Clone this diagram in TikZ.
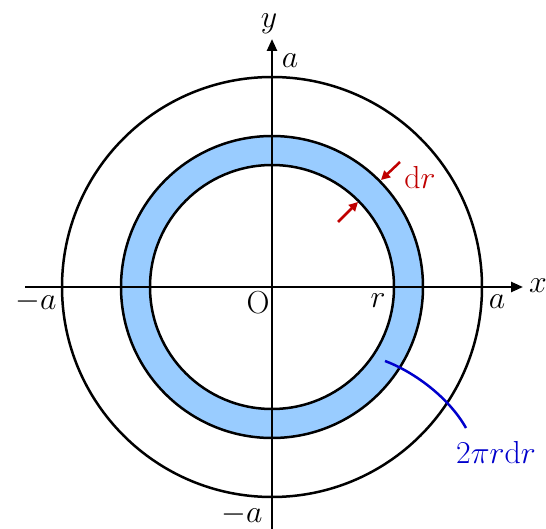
\documentclass[tikz,border=0pt]{standalone}
\usetikzlibrary{arrows.meta}
\definecolor{ringblue}{RGB}{153,204,255}
\definecolor{darkred}{RGB}{192,0,0}
\definecolor{labelblue}{RGB}{0,0,204}
\begin{document}
\begin{tikzpicture}[x=1pt,y=-1pt, line width=2.5pt,
  lbl/.style={font=\Huge, inner sep=0pt, scale=1.28, transform shape},
  axisarrow/.style={-{Triangle[length=12pt,width=10pt]}},
  drarrow/.style={darkred, -{Triangle[length=9pt,width=9pt]}}]
\useasboundingbox (0,0) rectangle (546,529);
\coordinate (O) at (272,287);
\fill[ringblue, even odd rule] (O) circle (151pt) (O) circle (122pt);
\draw (O) circle (151pt) (O) circle (122pt) (O) circle (210pt);
\coordinate (xs) at (25,287);
\coordinate (xe) at (523,287);
\coordinate (ys) at (272,529);
\coordinate (ye) at (272,39);
\draw[axisarrow] (xs) -- (xe);
\draw[axisarrow] (ys) -- (ye);
\node[lbl] (ylab) at (269,24) {$y$};
\node[lbl] (atop) at (290,61) {$a$};
\node[lbl] (xlab) at (538,286) {$x$};
\node[lbl] (aright) at (497,302) {$a$};
\node[lbl] (aleft) at (36,302) {$-a$};
\node[lbl] (Olab) at (258,303) {$\mathrm{O}$};
\node[lbl] (rlab) at (378,301) {$r$};
\node[lbl] (abot) at (242,515) {$-a$};
\node[lbl, text=darkred] (drlab) at (420,177) {$\mathrm{d}r$};
\coordinate (d1s) at (400,162);
\coordinate (d1e) at (381,180);
\coordinate (d2s) at (338,222);
\coordinate (d2e) at (358,202);
\draw[drarrow] (d1s) -- (d1e);
\draw[drarrow] (d2s) -- (d2e);
\coordinate (bs) at (385,361);
\coordinate (be) at (466,428);
\draw[labelblue] (bs) .. controls (412,371) and (448,396) .. (be);
\node[lbl, text=labelblue] (arealab) at (496,452) {$2\pi r\mathrm{d}r$};
\end{tikzpicture}
\end{document}
